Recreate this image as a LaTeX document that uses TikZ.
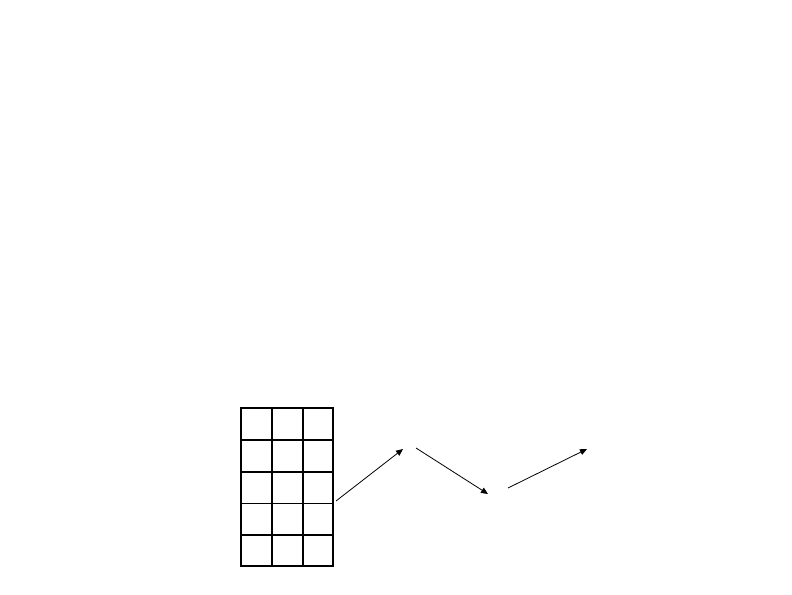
\documentclass[tikz,border=0pt]{standalone}
\usetikzlibrary{arrows.meta}
\begin{document}
\begin{tikzpicture}[x=1pt,y=-1pt,
  thinline/.style={line width=1.2pt,black},
  thickline/.style={line width=2.6pt,black},
  flow/.style={line width=0.8pt,black,-{Triangle[length=7pt,width=6pt]}}]
\useasboundingbox (0,0) rectangle (792,594);
% grid
\foreach \yy in {472,503.5,535}{\draw[thinline] (241,\yy) -- (333,\yy);}
\foreach \xx in {272,303}{\draw[thinline] (\xx,408) -- (\xx,566);}
\draw[thickline] (241,440) -- (333,440);
\draw[thickline] (241,408) rectangle (333,566);
% arrow endpoints
\coordinate (a1) at (336,501);
\coordinate (a2) at (403,449);
\coordinate (b1) at (416,448);
\coordinate (b2) at (488,494);
\coordinate (c1) at (508,488);
\coordinate (c2) at (587,449);
\draw[flow] (a1) -- (a2);
\draw[flow] (b1) -- (b2);
\draw[flow] (c1) -- (c2);
\end{tikzpicture}
\end{document}
